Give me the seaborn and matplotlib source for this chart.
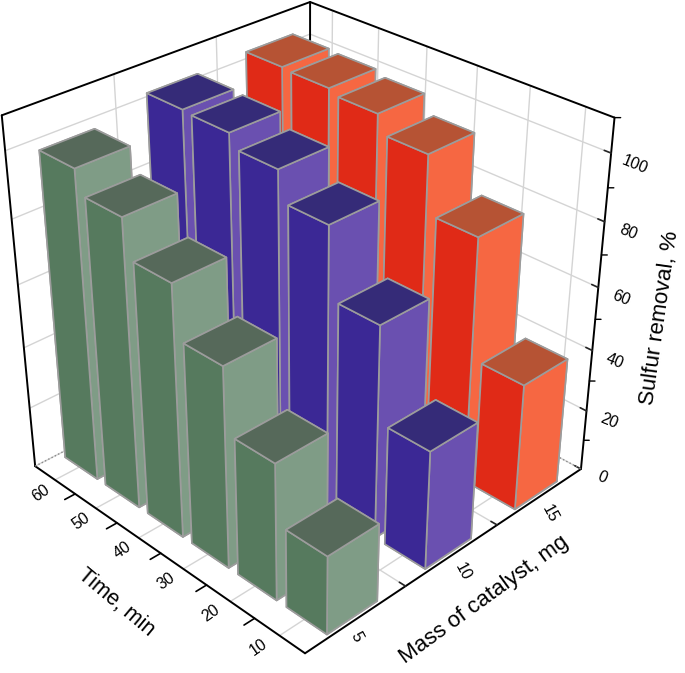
import numpy as np
import matplotlib
matplotlib.use("Agg")
import matplotlib.pyplot as plt
from mpl_toolkits.mplot3d import proj3d
import seaborn as sns

times = [60, 50, 40, 30, 20, 10]
masses = [5, 10, 15]
z_major = [0, 20, 40, 60, 80, 100]
z_minor = [10, 30, 50, 70, 90, 110]

# sulfur removal for each catalyst mass, same order as times
removal_5 = [98, 91, 79.5, 63.5, 43.5, 25]
removal_10 = [102.5, 102, 98, 89, 67.5, 38]
removal_15 = [103.5, 103, 101.5, 96, 78.5, 41]

sides_5 = ["#567a5e", "#56695a", "#7f9c86"]
sides_10 = ["#3b2895", "#352b78", "#6a50b0"]
sides_15 = ["#e02a17", "#b65334", "#f66742"]

sns.set_theme(style="white")
plt.rcParams["font.family"] = ["Liberation Sans", "DejaVu Sans"]

fig = plt.figure(figsize=(6.85, 6.73), dpi=100)
ax = fig.add_axes([-0.064, 0.0375, 1.0, 1.0], projection="3d", computed_zorder=False)
ax.view_init(elev=31, azim=-44.5)
ax.set_proj_type("persp", focal_length=0.5)
ax.set_box_aspect((1, 1, 1.0), zoom=1.02)

ax.set_xlim(0, 6)
ax.set_ylim(0, 3)
ax.set_zlim(0, 110)

# x grid sits at the half units, its tick marks are drawn by hand below
ax.set_xticks([0.5, 1.5, 2.5, 3.5, 4.5, 5.5])
ax.set_yticks([1, 2])
ax.set_zticks(z_major)
ax.set_xticklabels([])
ax.set_yticklabels([])
ax.set_zticklabels([str(v) for v in z_major], fontsize=11.5, rotation=-22, color="black")
ax.tick_params(axis="z", pad=2)

for axis in [ax.xaxis, ax.yaxis, ax.zaxis]:
    axis.set_pane_color((1, 1, 1, 1))
    axis.pane.set_edgecolor("none")
    axis.line.set_color("black")
    axis.line.set_linewidth(1.4)
    axis._axinfo["grid"].update(color="#d4d4d4", linewidth=1.0)
    axis._axinfo["tick"].update(inward_factor=0.0, outward_factor=0.25, linewidth={True: 1.2, False: 1.0}, color="black")
ax.xaxis._axinfo["tick"].update(outward_factor=0.0, linewidth={True: 0.0, False: 0.0})
ax.grid(True)

# box edges that are not axis lines
ax.plot([0, 0, 6], [0, 3, 3], [110, 110, 110], color="black", lw=1.4, zorder=1)
ax.plot([0, 0], [0, 0], [0, 110], color="black", lw=1.4, zorder=1)
ax.plot([0, 0], [3, 3], [0, 110], color="black", lw=1.4, zorder=1)
ax.plot([0, 0, 6], [0, 3, 3], [0, 0, 0], color="#8a8a8a", lw=1.0, ls=":", zorder=1)

# minor ticks on the height axis
for v in z_minor:
    ax.plot([6, 6.06], [3, 3.03], [v, v], color="black", lw=1.0, zorder=1)
# tick marks on the time axis
for b in [1, 2, 3, 4, 5]:
    ax.plot([b, b], [-0.1, 0], [0, 0], color="black", lw=1.2, zorder=1)

# draw back to front so that the bars hide each other properly
order = 2
for j, (vals, faces) in enumerate(zip([removal_15, removal_10, removal_5], [sides_15, sides_10, sides_5])):
    ypos = 2 - j
    for i, v in enumerate(vals):
        c = [faces[0], faces[1], faces[0], faces[0], faces[2], faces[2]]
        ax.bar3d(i + 0.14, ypos + 0.24, 0, 0.8, 0.5, v, color=c, shade=False,
                 edgecolor="#9c9c9c", linewidth=1.2, zorder=order)
        order += 1


def label_at(x, y, z, s, rot):
    # 3D text ignores rotation, so place it as 2D text at the projected spot
    px, py, _ = proj3d.proj_transform(x, y, z, ax.get_proj())
    ax.text2D(px, py, s, transform=ax.transData, fontsize=11.5, rotation=rot, ha="center", va="center", color="black")


for i, t in enumerate(times):
    label_at(0.62 + 0.97 * i, -0.18, 0, str(t), 35)
for m, x_lab, y_lab in zip(masses, [6.25, 6.37, 6.38], [0.37, 1.41, 2.38]):
    label_at(x_lab, y_lab, 0, str(m), -62)

fig.text(116 / 685, 1 - 602 / 673, "Time, min", fontsize=15.5, rotation=-40, ha="center", va="center", color="black")
fig.text(484 / 685, 1 - 600 / 673, "Mass of catalyst, mg", fontsize=16, rotation=36, ha="center", va="center", color="black")
fig.text(660 / 685, 1 - 318 / 673, "Sulfur removal, %", fontsize=16, rotation=82, ha="center", va="center", color="black")

fig.savefig("out.png", dpi=100)
